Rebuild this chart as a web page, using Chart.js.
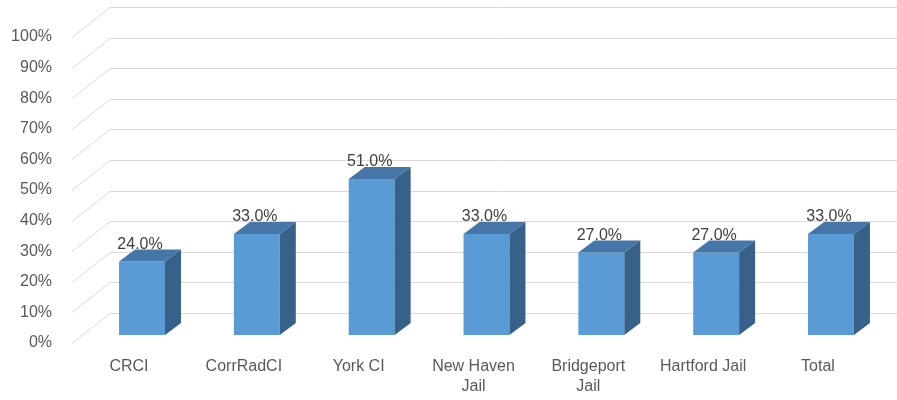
<!DOCTYPE html>
<html>
<head>
<meta charset="utf-8">
<script src="https://cdn.jsdelivr.net/npm/chart.js@4/dist/chart.umd.min.js"></script>
<style>
html,body{margin:0;padding:0;background:#fff;}
#wrap{width:897px;height:400px;position:relative;}
</style>
</head>
<body>
<div id="wrap"><canvas id="c" width="897" height="400"></canvas></div>
<script>
const categories = [['CRCI'], ['CorrRadCI'], ['York CI'], ['New Haven', 'Jail'], ['Bridgeport', 'Jail'], ['Hartford Jail'], ['Total']];
const values = [24, 33, 51, 33, 27, 27, 33];
const yTicks = [0, 10, 20, 30, 40, 50, 60, 70, 80, 90, 100];

const FONT = '"Liberation Sans", Arial, sans-serif';

const grid3d = {
  id: 'grid3d',
  beforeDatasetsDraw(chart) {
    const ctx = chart.ctx, ys = chart.scales.y, area = chart.chartArea;
    ctx.save();
    ctx.strokeStyle = '#D9D9D9';
    ctx.lineWidth = 1;
    yTicks.forEach(v => {
      const py = Math.round(ys.getPixelForValue(v)) + 0.5;
      const fx = area.left - 12.6, fy = py + 8;
      const bx = area.left + 25.4, by = py - 22;
      ctx.beginPath();
      ctx.moveTo(fx, fy);
      ctx.lineTo(bx, by);
      ctx.lineTo(chart.width, by);
      ctx.stroke();
    });
    ctx.restore();
  },
  afterDatasetsDraw(chart) {
    const ctx = chart.ctx;
    const meta = chart.getDatasetMeta(0);
    const dx = 16, dy = -12;
    ctx.save();
    meta.data.forEach((bar, i) => {
      const p = bar.getProps(['x', 'y', 'base', 'width'], true);
      const l = p.x - p.width / 2, r = p.x + p.width / 2, t = p.y, b = p.base;
      // top face
      ctx.fillStyle = '#4676A8';
      ctx.beginPath();
      ctx.moveTo(l, t); ctx.lineTo(l + dx, t + dy); ctx.lineTo(r + dx, t + dy); ctx.lineTo(r, t);
      ctx.closePath(); ctx.fill();
      // side face
      ctx.fillStyle = '#386189';
      ctx.beginPath();
      ctx.moveTo(r, t); ctx.lineTo(r + dx, t + dy); ctx.lineTo(r + dx, b + dy); ctx.lineTo(r, b);
      ctx.closePath(); ctx.fill();
      // label
      ctx.fillStyle = '#404040';
      ctx.font = '16px ' + FONT;
      ctx.textAlign = 'center';
      ctx.textBaseline = 'middle';
      ctx.fillText(values[i].toFixed(1) + '%', p.x - 2, t - 17);
    });
    ctx.restore();
  }
};

new Chart(document.getElementById('c'), {
  type: 'bar',
  data: {
    labels: categories,
    datasets: [{
      data: values,
      backgroundColor: '#5B9BD5',
      borderWidth: 0,
      barPercentage: 0.4,
      categoryPercentage: 1.0
    }]
  },
  options: {
    responsive: false,
    animation: false,
    devicePixelRatio: 1,
    layout: { padding: { top: 29, right: 8.6, left: 0, bottom: 0 } },
    plugins: { legend: { display: false }, tooltip: { enabled: false } },
    scales: {
      x: {
        grid: { display: false, drawTicks: false },
        border: { display: false },
        ticks: {
          color: '#595959',
          font: { family: FONT, size: 16, lineHeight: 1.25 },
          padding: 21.5,
          labelOffset: -13,
          maxRotation: 0,
          autoSkip: false
        },
        afterFit(s) { s.height = 65; s.paddingLeft = 0; s.paddingRight = 0; }
      },
      y: {
        min: 0, max: 100,
        grid: { display: false, drawTicks: false },
        border: { display: false },
        ticks: {
          stepSize: 10,
          color: '#595959',
          font: { family: FONT, size: 16 },
          padding: 32.6,
          labelOffset: 8,
          callback: v => v + '%'
        },
        afterFit(s) { s.width = 84.6; s.paddingTop = 0; s.paddingBottom = 0; }
      }
    }
  },
  plugins: [grid3d]
});
</script>
</body>
</html>
